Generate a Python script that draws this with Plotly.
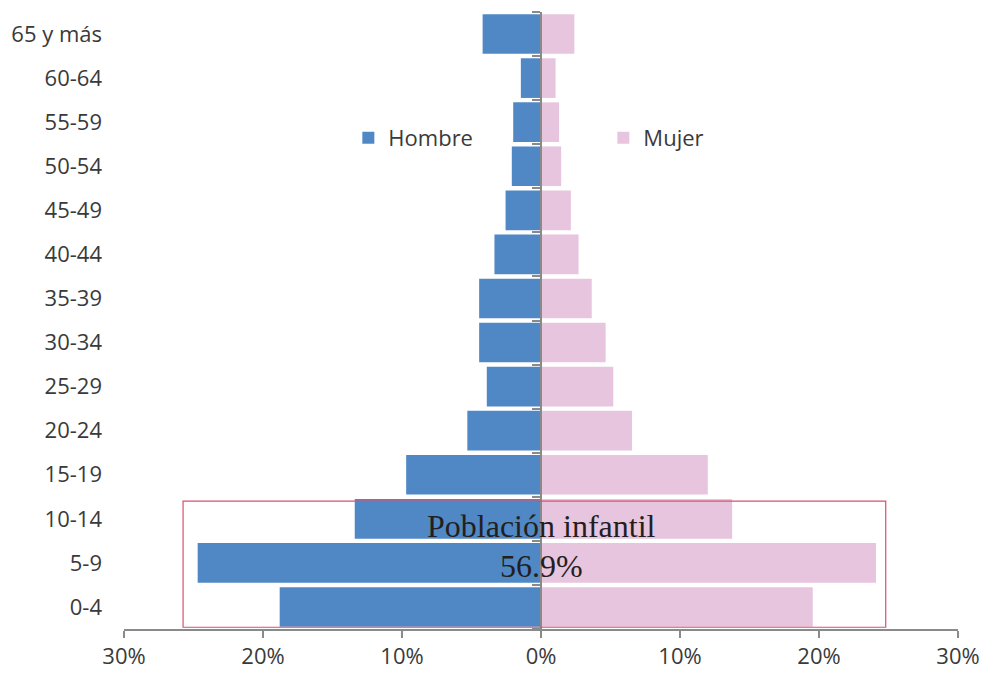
import plotly.graph_objects as go

age_groups = ["0-4", "5-9", "10-14", "15-19", "20-24", "25-29", "30-34", "35-39",
              "40-44", "45-49", "50-54", "55-59", "60-64", "65 y más"]
hombre = [18.8, 24.7, 13.4, 9.7, 5.3, 3.9, 4.45, 4.45, 3.35, 2.55, 2.1, 2.0, 1.45, 4.2]
mujer = [19.55, 24.1, 13.75, 12.0, 6.55, 5.2, 4.65, 3.65, 2.7, 2.15, 1.45, 1.3, 1.05, 2.4]

tick_vals = [-30, -20, -10, 0, 10, 20, 30]
tick_text = ["30%", "20%", "10%", "0%", "10%", "20%", "30%"]

annot_title = "Población infantil"
annot_value = "56.9%"

blue = "#5088c6"
pink = "#e8c5de"
axis_gray = "#8a8a8a"
label_color = "#3a3a3a"
font_sans = "Open Sans"

fig = go.Figure()
fig.add_trace(go.Bar(
    y=age_groups, x=[-v for v in hombre], orientation="h", name="Hombre",
    marker=dict(color=blue, line=dict(width=0)),
))
fig.add_trace(go.Bar(
    y=age_groups, x=mujer, orientation="h", name="Mujer",
    marker=dict(color=pink, line=dict(width=0)),
))
# invisible trace to build the centre category axis (ticks at boundaries)
fig.add_trace(go.Scatter(
    y=age_groups, x=[0] * len(age_groups), yaxis="y2", mode="markers",
    marker=dict(opacity=0), showlegend=False, hoverinfo="skip",
))

fig.update_layout(
    width=984, height=673,
    margin=dict(l=124, r=26, t=12, b=44, autoexpand=False),
    paper_bgcolor="white", plot_bgcolor="white",
    barmode="relative", bargap=0.1,
    font=dict(family=font_sans, size=22, color=label_color),
    legend=dict(
        orientation="h", x=0.269, y=0.796, xanchor="left", yanchor="middle",
        entrywidth=210, entrywidthmode="pixels",
        font=dict(family=font_sans, size=22, color=label_color),
        bgcolor="rgba(0,0,0,0)", itemwidth=30,
    ),
    xaxis=dict(
        range=[-30, 30], tickvals=tick_vals, ticktext=tick_text,
        showgrid=False, zeroline=False, automargin=False,
        showline=True, linecolor=axis_gray, linewidth=2,
        ticks="outside", ticklen=7, tickwidth=2, tickcolor=axis_gray,
        tickfont=dict(family=font_sans, size=22, color=label_color),
    ),
    yaxis=dict(
        type="category", categoryarray=age_groups, categoryorder="array",
        range=[-0.5, len(age_groups) - 0.5], automargin=False,
        showgrid=False, zeroline=False, showline=False, ticks="",
        ticklabelstandoff=21,
        tickfont=dict(family=font_sans, size=22, color=label_color),
    ),
    yaxis2=dict(
        type="category", categoryarray=age_groups, categoryorder="array",
        range=[-0.5, len(age_groups) - 0.5], automargin=False,
        overlaying="y", anchor="free", position=0.5, side="left",
        showgrid=False, zeroline=False, showticklabels=False,
        showline=True, linecolor=axis_gray, linewidth=2,
        ticks="outside", tickson="boundaries", ticklen=8, tickwidth=2, tickcolor=axis_gray,
    ),
    showlegend=True,
)

fig.add_shape(
    type="rect", xref="x", yref="y",
    x0=-25.75, x1=24.8, y0=-0.46, y1=2.4,
    line=dict(color="#d9506e", width=1.2), fillcolor="rgba(0,0,0,0)", layer="above",
)
fig.add_annotation(
    x=0, y=1.83, xref="x", yref="y", text=annot_title, showarrow=False,
    font=dict(family="Liberation Serif", size=32, color="#231f20"),
)
fig.add_annotation(
    x=0, y=0.92, xref="x", yref="y", text=annot_value, showarrow=False,
    font=dict(family="Liberation Serif", size=32, color="#231f20"),
)

# remove the browser's default 8px body margin so the figure fills the window
fig.write_html(
    "out.html",
    config={"displayModeBar": False},
    post_script="document.body.style.margin='0';document.body.style.overflow='hidden';",
)
